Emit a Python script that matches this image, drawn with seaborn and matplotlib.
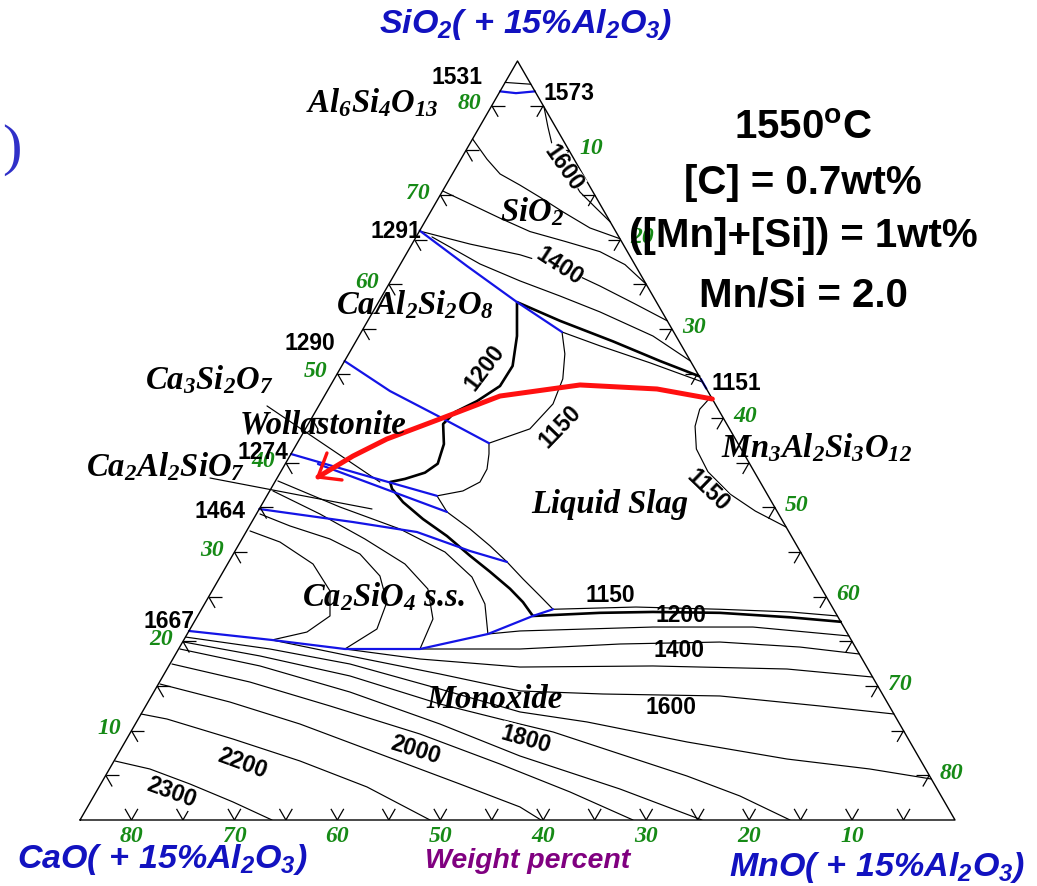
import numpy as np
import pandas as pd
import matplotlib
matplotlib.use("Agg")
import matplotlib.pyplot as plt
from matplotlib.collections import LineCollection
import seaborn as sns

TOTAL = 85.0  # CaO + SiO2 + MnO on the pseudo-ternary (15 % Al2O3 held fixed)

# ---------------------------------------------------------------------------
# Curves, given as (SiO2, MnO) wt% pairs; CaO = 85 - SiO2 - MnO
# ---------------------------------------------------------------------------
apex_iso = [(82.6, 0.0), (82.5, 1.3), (82.4, 2.6)]
iso_1600_silica = [(79.85, 5.15), (78.73, 5.9), (77.61, 6.65), (75.71, 7.99),
                   (72.91, 10.75), (70.33, 13.4), (68.65, 15.7), (66.97, 18.03)]
silica_iso_a = [(76.27, 0.0), (74.0, 2.54), (72.35, 4.63), (71.1, 7.19), (69.75, 9.8),
                (68.1, 12.87), (66.3, 16.39), (65.1, 19.9)]
silica_iso_b = [(70.45, 0.0), (69.0, 3.38), (67.4, 7.1), (65.9, 10.76), (64.8, 14.71),
                (63.65, 18.68), (62.2, 21.84), (60.0, 25.0)]
silica_iso_c = [(65.96, 0.0), (64.5, 5.63), (63.3, 11.09), (61.9, 15.68), (59.8, 20.61),
                (57.8, 25.01), (55.9, 29.1)]
silica_iso_d = [(65.3, 1.54), (62.27, 7.72), (60.37, 12.56), (58.68, 17.29), (56.9, 22.06),
                (54.2, 28.56), (51.4, 33.6)]

iso_1200 = [(49.7, 35.3), (51.4, 30.65), (53.6, 24.98), (55.9, 18.68), (58.0, 13.45),
            (54.2, 15.35), (50.85, 16.6), (48.6, 16.5), (46.9, 15.1), (45.7, 13.6),
            (44.35, 13.1), (42.1, 14.3), (39.9, 14.8), (38.9, 14.06), (38.2, 12.47),
            (37.85, 11.2), (37.1, 11.76), (35.6, 13.58), (33.7, 16.47), (31.8, 19.75),
            (29.6, 23.08), (27.8, 25.93), (25.9, 28.82), (24.4, 30.83), (22.85, 32.57),
            (23.2, 38.91), (23.3, 44.01), (23.2, 50.57), (22.7, 57.62), (22.2, 62.8)]
iso_1150 = [(49.05, 35.95), (51.2, 29.77), (53.1, 23.96), (54.65, 19.5), (52.2, 21.0),
            (49.4, 22.2), (46.6, 22.65), (43.8, 21.8), (42.2, 18.63), (41.0, 19.23),
            (39.3, 19.89), (37.85, 19.93), (36.85, 18.77), (36.3, 16.53), (34.5, 18.4),
            (32.6, 21.58), (30.7, 24.48), (28.9, 27.03), (27.0, 29.53), (25.1, 32.13),
            (23.6, 34.15), (23.85, 42.08), (23.6, 50.37), (23.3, 57.32), (22.85, 62.15)]
iso_1150_garnet = [(47.4, 37.6), (46.0, 37.2), (44.1, 37.7), (41.55, 39.1), (39.0, 41.5),
                   (36.5, 44.9), (34.6, 48.3), (32.8, 52.2)]

iso_1300 = [(37.97, 0.24), (35.05, 7.73), (32.59, 14.78), (30.01, 20.45), (27.21, 24.47),
            (24.19, 27.24), (20.83, 29.21), (21.17, 32.15), (21.61, 44.85), (21.61, 54.57),
            (20.61, 64.39)]
iso_1400 = [(36.85, 0.32), (34.27, 6.17), (31.47, 11.94), (28.67, 17.23), (25.87, 20.86),
            (22.51, 23.03), (19.15, 23.45), (19.15, 33.16), (19.71, 42.6), (19.93, 52.2),
            (19.37, 60.25), (18.59, 66.41)]
iso_1500 = [(34.27, 0.35), (32.93, 3.93), (31.47, 8.55), (29.79, 12.3), (27.33, 15.47),
            (24.41, 17.61), (21.39, 18.15), (19.15, 16.16), (18.03, 24.01), (17.13, 34.17),
            (17.25, 47.03), (16.91, 60.22), (16.01, 68.99)]
iso_1600 = [(32.37, 0.33), (31.13, 3.86), (28.67, 8.3), (25.65, 11.46), (22.85, 12.86),
            (21.05, 11.52), (20.16, 8.57), (18.37, 17.04), (16.35, 26.79), (14.45, 35.51),
            (14.11, 43.74), (13.89, 55.22), (12.77, 65.49), (11.87, 73.13)]
iso_1700 = [(20.49, 0.0), (19.15, 8.88), (17.47, 17.49), (14.67, 27.63), (12.1, 36.69),
            (10.98, 43.76), (8.74, 54.59), (6.83, 65.26), (5.71, 73.88), (4.59, 80.41)]
iso_1800 = [(19.93, 0.13), (18.37, 8.3), (16.13, 18.16), (12.99, 28.47), (10.75, 37.36),
            (9.86, 41.02), (7.39, 48.76), (4.93, 56.49), (2.69, 62.76), (0.0, 68.97)]
iso_1900 = [(19.15, 0.13), (17.25, 8.86), (14.33, 19.06), (10.75, 29.59), (7.17, 39.15),
            (3.47, 50.72), (0.0, 60.42)]
iso_2000 = [(17.47, 0.2), (15.45, 8.78), (12.77, 17.9), (9.63, 28.21), (6.27, 37.66),
            (3.14, 46.03), (0.0, 53.72)]
iso_2100 = [(15.23, 0.15), (13.21, 7.96), (10.75, 15.99), (7.39, 25.44), (4.03, 34.89),
            (1.46, 42.01), (0.0, 44.78)]
iso_2200 = [(11.87, 0.0), (11.31, 2.79), (9.07, 10.32), (6.61, 18.06), (3.7, 26.03), (0.0, 34.0)]
iso_2300 = [(6.61, 0.09), (5.71, 3.94), (4.03, 8.67), (2.02, 13.85), (0.0, 18.65)]

leader_ca3si2o7 = [(46.37, -5.02), (37.85, 10.21)]
leader_ca2al2sio7 = [(38.3, -6.52), (34.83, 10.95)]

# field boundaries
bnd_mullite = [(81.6, 0.0), (81.4, 1.65), (81.6, 3.4)]
bnd_1291 = [(66.0, 0.0), (62.04, 6.57), (58.0, 13.45), (54.65, 19.5)]
bnd_1290 = [(51.4, 0.0), (48.04, 6.09), (45.13, 12.4), (42.2, 18.63)]
bnd_1274_upper = [(40.99, 0.0), (38.75, 7.82), (36.3, 16.53)]
bnd_1274_lower = [(39.87, 3.18), (34.5, 18.4)]
bnd_1464 = [(34.83, 0.0), (33.37, 9.83), (32.25, 16.61), (30.13, 22.81), (28.9, 27.03)]
bnd_1667 = [(21.17, 0.0), (20.16, 8.57), (19.15, 16.16), (19.15, 23.45), (20.83, 29.21),
            (22.85, 32.57), (23.6, 34.15)]
bnd_1151 = [(49.4, 35.6), (48.3, 36.7)]

# composition path of the slag
slag_path = [(47.15, 37.85), (48.27, 31.91), (48.72, 24.21), (47.48, 17.06),
             (44.91, 12.51), (42.67, 8.48), (40.76, 6.14), (38.41, 3.91)]
slag_head = [(41.1, 3.44), (38.41, 3.91), (38.08, 6.41)]

tick_values = [10, 20, 30, 40, 50, 60, 70, 80]


def to_xy(pts):
    a = np.asarray(pts, float)
    s, m = a[:, 0], a[:, 1]
    return (m + s / 2.0) / TOTAL, s / TOTAL


def frame(curves):
    rows = []
    for i, c in enumerate(curves):
        x, y = to_xy(c)
        for k, (xx, yy) in enumerate(zip(x, y)):
            rows.append({"curve": i, "order": k, "x": xx, "y": yy})
    return pd.DataFrame(rows)


sns.set_theme(style="white")
plt.rcParams.update({
    "font.family": ["Liberation Sans", "DejaVu Sans"],
    "mathtext.fontset": "custom",
    "mathtext.rm": "Liberation Sans:italic:bold",
    "mathtext.it": "Liberation Sans:italic:bold",
    "mathtext.bf": "Liberation Sans:bold",
    "mathtext.bfit": "Liberation Serif:italic:bold",
})

W, H = 1037, 887
fig = plt.figure(figsize=(W / 100, H / 100), dpi=100)
fig.patch.set_facecolor("white")
ax = fig.add_axes([80 / W, 66 / H, 875 / W, 759 / H])
ax.set_xlim(0, 1)
ax.set_ylim(0, 1)
ax.axis("off")

thin = [apex_iso, iso_1600_silica, silica_iso_a, silica_iso_b, silica_iso_c, silica_iso_d,
        iso_1150, iso_1150_garnet, iso_1300, iso_1400, iso_1500, iso_1600, iso_1700,
        iso_1800, iso_1900, iso_2000, iso_2100, iso_2200, iso_2300,
        leader_ca3si2o7, leader_ca2al2sio7]
thick = [iso_1200]
blue = [bnd_mullite, bnd_1291, bnd_1290, bnd_1274_upper, bnd_1274_lower, bnd_1464,
        bnd_1667, bnd_1151]

for group, color, lw, z in [(thin, "black", 0.85, 2), (thick, "black", 1.9, 3),
                            (blue, "#1414e6", 1.6, 4)]:
    df = frame(group)
    sns.lineplot(data=df, x="x", y="y", units="curve", estimator=None, sort=False,
                 color=color, linewidth=lw, ax=ax, zorder=z, legend=False)

df_red = frame([slag_path])
sns.lineplot(data=df_red, x="x", y="y", units="curve", estimator=None, sort=False,
             color="#ff1010", linewidth=3.6, ax=ax, zorder=6, legend=False)
df_head = frame([slag_head])
sns.lineplot(data=df_head, x="x", y="y", units="curve", estimator=None, sort=False,
             color="#ff1010", linewidth=2.4, ax=ax, zorder=6, legend=False)
ax.set_xlabel("")
ax.set_ylabel("")
ax.set_xlim(0, 1)
ax.set_ylim(0, 1)

# triangle frame
tri = to_xy([(0, 0), (0, TOTAL), (TOTAL, 0), (0, 0)])
ax.plot(tri[0], tri[1], color="black", lw=1.0, zorder=5, clip_on=False)

# ternary ticks every 5 wt%, two short arms pointing inside
d = 1.25
segs = []
for v in range(5, 85, 5):
    p = (0, v)
    for q in [(d, v), (d, v - d)]:
        segs.append(np.column_stack(to_xy([p, q])))
    p = (v, 0)
    for q in [(v, d), (v - d, d)]:
        segs.append(np.column_stack(to_xy([p, q])))
    p = (v, TOTAL - v)
    for q in [(v, TOTAL - v - d), (v - d, TOTAL - v)]:
        segs.append(np.column_stack(to_xy([p, q])))
ax.add_collection(LineCollection(segs, colors="black", linewidths=0.9, zorder=5))

green = "#168a16"
tick_font = dict(family="Liberation Serif", style="italic", weight="bold", size=17,
                 color=green, ha="center", va="center")
for v in tick_values:
    x, y = to_xy([(v, 0)])
    ax.annotate(str(v), (x[0], y[0]), xytext=(-16, 2.0), textcoords="offset points",
                annotation_clip=False, **tick_font)
    x, y = to_xy([(0, TOTAL - v)])
    ax.annotate(str(v), (x[0], y[0]), xytext=(0, -11), textcoords="offset points",
                annotation_clip=False, **tick_font)
    x, y = to_xy([(TOTAL - v, v)])
    ax.annotate(str(v), (x[0], y[0]), xytext=(16, 2.0), textcoords="offset points",
                annotation_clip=False, zorder=1, **tick_font)


def ptext(px, py, s, **kw):
    kw.setdefault("ha", "center")
    kw.setdefault("va", "center")
    return fig.text(px / W, 1 - py / H, s, **kw)


num = dict(size=16.5, weight="bold", color="black", family="Liberation Sans")
for px, py, s in [(457, 78, "1531"), (569, 93, "1573"), (396, 232, "1291"),
                  (310, 343, "1290"), (263, 453, "1274"), (220, 512, "1464"),
                  (169, 622, "1667"), (736, 384, "1151"),
                  (610, 596, "1150"), (681, 616, "1200"), (679, 651, "1400"),
                  (671, 707, "1600")]:
    ptext(px, py, s, zorder=7, **num)

for px, py, s, rot in [(563, 168, "1600", -55), (559, 266, "1400", -33),
                       (485, 368, "1200", 53), (560, 427, "1150", 46),
                       (708, 491, "1150", -44), (526, 740, "1800", -16),
                       (415, 750, "2000", -17), (242, 764, "2200", -20),
                       (171, 793, "2300", -20)]:
    ptext(px, py, s, rotation=rot, rotation_mode="anchor", zorder=7,
          bbox=dict(boxstyle="square,pad=0.02", fc="white", ec="none"), **num)

serif = dict(size=23.5, color="black", family="Liberation Serif", weight="bold",
             style="italic")
for px, py, s in [(372, 103, r"$\mathbfit{Al_6Si_4O_{13}}$"),
                  (532, 212, r"$\mathbfit{SiO_2}$"),
                  (415, 305, r"$\mathbfit{CaAl_2Si_2O_8}$"),
                  (209, 380, r"$\mathbfit{Ca_3Si_2O_7}$"),
                  (166, 467, r"$\mathbfit{Ca_2Al_2SiO_7}$"),
                  (384, 597, r"$\mathbfit{Ca_2SiO_4}$ s.s."),
                  (817, 448, r"$\mathbfit{Mn_3Al_2Si_3O_{12}}$"),
                  (323, 425, "Wollastonite"),
                  (610, 505, "Liquid Slag"),
                  (495, 700, "Monoxide")]:
    ptext(px, py, s, zorder=7, **serif)

# conditions
cond = dict(size=29, weight="bold", color="black", family="Liberation Sans", zorder=8)
ptext(803, 128, r"1550$^{\mathbf{o}}$C", **cond)
ptext(803, 183, "[C] = 0.7wt%", **cond)
ptext(803, 236, "([Mn]+[Si]) = 1wt%", **cond)
ptext(803, 296, "Mn/Si = 2.0", **cond)

# component labels
comp = dict(size=24.5, color="#1212c0")
ptext(526, 24, r"$\mathit{SiO_2(\ {+}\ 15\%Al_2O_3)}$", **comp)
ptext(162, 860, r"$\mathit{CaO(\ {+}\ 15\%Al_2O_3)}$", **comp)
ptext(877, 868, r"$\mathit{MnO(\ {+}\ 15\%Al_2O_3)}$", **comp)
ptext(528, 861, "Weight percent", size=20.5, color="#800080", weight="bold",
      style="italic", family="Liberation Sans")
ptext(12, 150, ")", size=42, color="#3030c8", family="Liberation Serif")

fig.savefig("out.png", dpi=100, facecolor="white")
